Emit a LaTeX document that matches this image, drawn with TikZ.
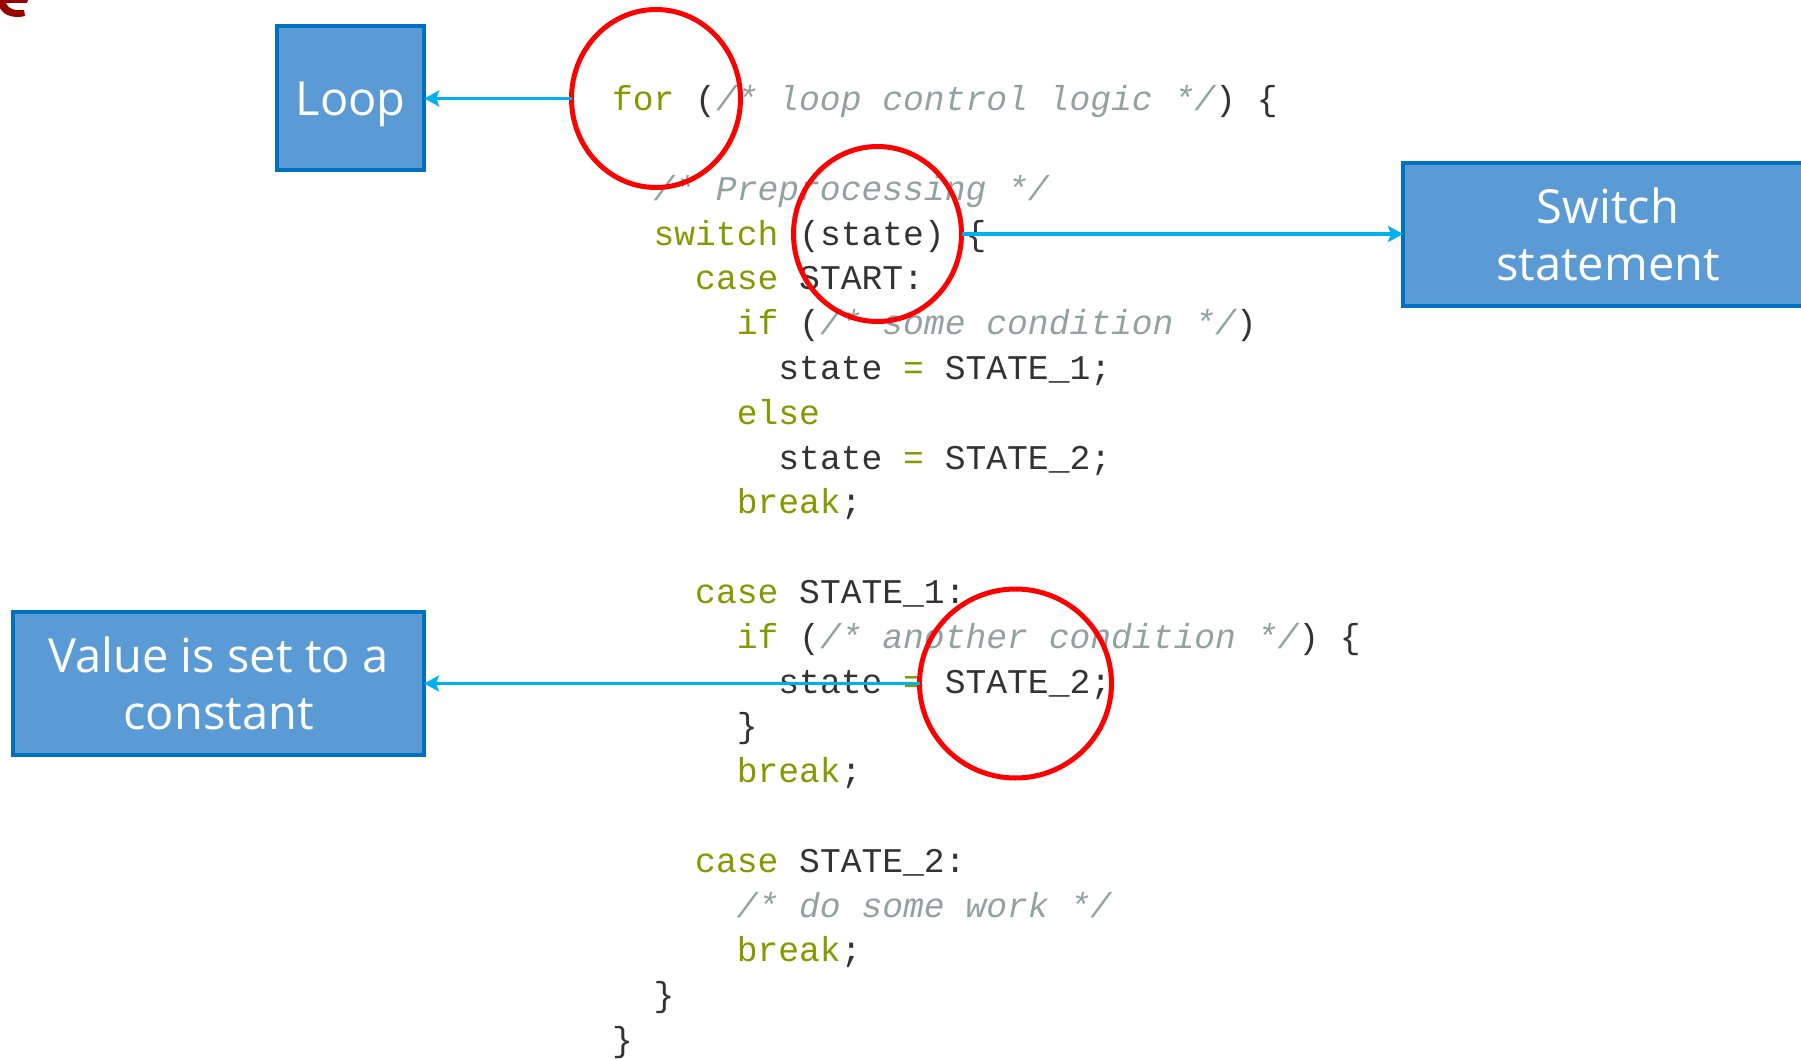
\documentclass[tikz,border=0pt]{standalone}
\usepackage{fontspec}
\setmainfont{Open Sans}
\newfontfamily\codefont{Liberation Mono}
\usetikzlibrary{shapes.geometric,arrows.meta}
\definecolor{kwc}{HTML}{859900}
\definecolor{cmc}{HTML}{93A1A1}
\definecolor{txc}{HTML}{333333}
\definecolor{boxfill}{HTML}{5B9BD5}
\definecolor{boxline}{HTML}{0070C0}
\definecolor{arrc}{HTML}{00B0F0}
\definecolor{ringc}{HTML}{FF0000}
\definecolor{titlec}{HTML}{990000}
\newcommand{\kw}[1]{\textcolor{kwc}{#1}}
\newcommand{\cm}[1]{\textcolor{cmc}{\itshape #1}}
\tikzset{
  codeline/.style={anchor=base west, inner sep=0pt, outer sep=0pt, text=txc,
    font=\codefont\fontsize{34.66}{44.8}\selectfont},
  bluebox/.style={draw=boxline, line width=4pt, fill=boxfill, text=white,
    align=center, inner sep=0pt, outer sep=0pt, minimum height=143pt,
    font=\fontsize{47}{57}\selectfont},
  ring/.style={ellipse, draw=ringc, line width=5pt, inner sep=0pt, outer sep=0pt},
  callout/.style={draw=arrc, line width=3.5pt, -{Stealth[length=15pt,width=16pt,inset=3pt]}}
}
\begin{document}
\begin{tikzpicture}[x=1pt,y=-1pt]
\useasboundingbox (0,0) rectangle (1801,1059);
\clip (0,0) rectangle (1801,1059);
% fragment of a title at the top left
\fill[titlec] (0,0) -- (28,0) -- (27,3) -- (6,3) .. controls (8,9) and (15,11) .. (24,10)
  -- (25,16) .. controls (14,19) and (3,15) .. (0,8) -- cycle;
% code
\node[codeline] (l0)  at (612,110.7)   {\kw{for} (\cm{/* loop control logic */}) \{};
\node[codeline] (l2)  at (653.6,200.3) {\cm{/* Preprocessing */}};
\node[codeline] (l3)  at (653.6,245.1) {\kw{switch} (state) \{};
\node[codeline] (l4)  at (695.2,289.9) {\kw{case} START:};
\node[codeline] (l5)  at (736.8,334.7) {\kw{if} (\cm{/* some condition */})};
\node[codeline] (l6)  at (778.4,379.5) {state \kw{=} STATE\_1;};
\node[codeline] (l7)  at (736.8,424.3) {\kw{else}};
\node[codeline] (l8)  at (778.4,469.1) {state \kw{=} STATE\_2;};
\node[codeline] (l9)  at (736.8,513.9) {\kw{break};};
\node[codeline] (l11) at (695.2,603.5) {\kw{case} STATE\_1:};
\node[codeline] (l12) at (736.8,648.3) {\kw{if} (\cm{/* another condition */}) \{};
\node[codeline] (l13) at (778.4,693.1) {state \kw{=} STATE\_2;};
\node[codeline] (l14) at (736.8,737.9) {\}};
\node[codeline] (l15) at (736.8,782.7) {\kw{break};};
\node[codeline] (l17) at (695.2,872.3) {\kw{case} STATE\_2:};
\node[codeline] (l18) at (736.8,917.1) {\cm{/* do some work */}};
\node[codeline] (l19) at (736.8,961.9) {\kw{break};};
\node[codeline] (l20) at (653.6,1006.7) {\}};
\node[codeline] (l21) at (612,1051.5)  {\}};
% boxes
\node[bluebox, minimum width=147pt, minimum height=144pt, text depth=0pt] (loop) at (350.75,98.5) {Loop};
\node[bluebox, minimum width=410pt] (switch) at (1608,234.5) {Switch\\statement};
\node[bluebox, minimum width=411pt] (value) at (218.5,683.5) {Value is set to a\\constant};
% rings
\node[ring, minimum width=169pt, minimum height=178pt] (c1) at (656,98.5) {};
\node[ring, minimum width=168pt, minimum height=175pt] (c2) at (877.5,234) {};
\node[ring, minimum width=192pt, minimum height=189pt] (c3) at (1015.5,683.5) {};
% connectors
\draw[callout] (c1.west) -- (c1.west -| loop.east);
\draw[callout] (c2.east) -- (c2.east -| switch.west);
\draw[callout] (c3.west) -- (c3.west -| value.east);
\end{tikzpicture}
\end{document}
